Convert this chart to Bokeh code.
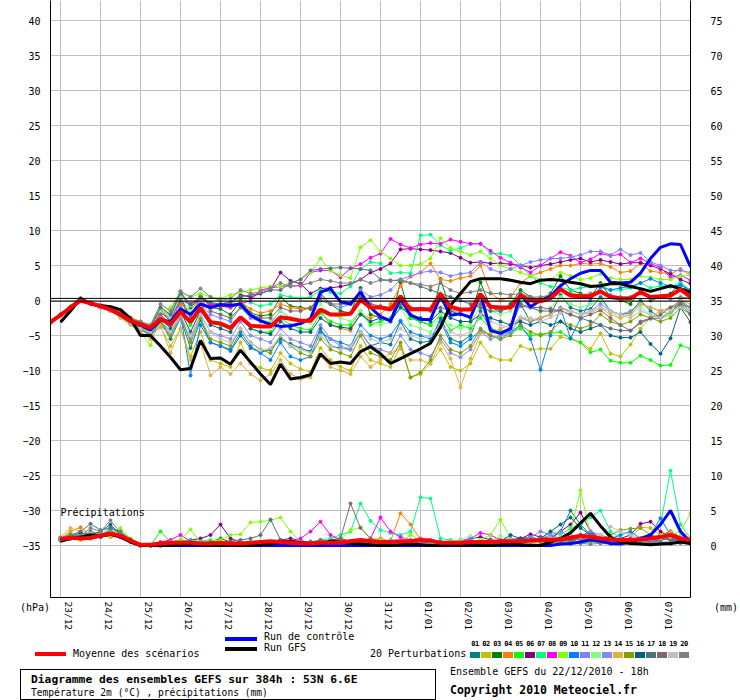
import math
from bokeh.plotting import figure
from bokeh.models import Range1d, LinearAxis, FixedTicker, Grid, Label, Span, Div
from bokeh.layouts import column
from bokeh.embed import file_html
from bokeh.resources import INLINE

N = float("nan")
FONT = "DejaVu Sans Mono"

# time axis: hours since 22/12/2010 18h, every 6 h, 384 h
hours = list(range(0, 385, 6))
day_labels = ["23/12", "24/12", "25/12", "26/12", "27/12", "28/12", "29/12", "30/12",
              "31/12", "01/01", "02/01", "03/01", "04/01", "05/01", "06/01", "07/01"]
label_hours = [11 + 24 * k for k in range(16)]
grid_hours = [6 + 24 * k for k in range(16)]
temp_ticks = list(range(-35, 45, 5))
precip_ticks = list(range(0, 80, 5))

# ---- Temperature 2m (deg C) ----
mean_t = [-3.1, -2.1, -1.0, 0.0, -0.4, -0.8, -1.3, -2.0, -2.9, -3.4, -3.9, -2.6, -3.4, -1.6, -3.1,
          -1.0, -3.1, -3.3, -3.9, -2.4, -3.6, -3.7, -3.7, -2.4, -2.6, -2.9, -2.9, -1.3, -2.0, -2.0,
          -1.9, 0.1, -1.0, -1.0, -1.3, 0.6, -1.3, -1.2, -1.3, 0.9, -0.9, -1.3, -1.3, 0.9, -0.9,
          -1.0, -1.0, 0.7, 0.0, -0.1, 0.3, 1.6, 0.7, 0.6, 0.6, 1.3, 0.5, 0.3, 0.3, 1.2, 0.5, 0.6,
          0.7, 1.6, 0.5]
ctrl_t = [-3.1, -2.1, -1.0, 0.2, -0.4, -0.9, -1.3, -2.1, -3.0, -3.5, -4.2, -2.8, -3.0, -1.2, -2.0,
          -0.5, -1.0, -0.6, -0.7, -0.5, -2.1, -2.9, -3.4, -3.7, -3.6, -3.3, -2.6, 1.2, 1.7, -0.2,
          -0.5, 1.2, -1.0, -2.3, -2.9, 0.3, -2.1, -2.7, -2.7, 0.6, -2.1, -1.9, -2.4, 1.0, -4.3,
          -4.7, -4.0, 0.9, -0.9, 0.0, 0.6, 2.1, 3.1, 3.9, 4.3, 4.3, 2.6, 2.5, 2.6, 3.9, 6.0, 7.6,
          8.1, 8.0, 4.8]
gfs_t = [N, -3.1, -1.5, 0.3, -0.5, -0.7, -0.9, -1.3, -2.6, -5.0, -5.0, -6.5, -8.1, -9.9, -9.7,
         -5.7, -8.3, -8.2, -9.1, -7.1, -8.8, -10.5, -12.0, -9.1, -11.2, -11.0, -10.6, -7.6, -9.0,
         -8.8, -9.0, -7.3, -6.6, -7.6, -9.0, -8.3, -7.6, -6.9, -6.1, -3.8, -0.7, 1.0, 2.7, 3.1,
         3.1, 3.1, 2.9, 2.6, 2.4, 2.9, 3.0, 2.9, 2.6, 2.4, 2.0, 2.1, 2.4, 2.4, 2.0, 1.7, 1.3,
         1.7, 2.1, 1.7, 1.2]

t01 = [-3.0, -2.0, -0.9, 0.2, -0.3, -0.9, -1.4, -2.2, -3.1, -3.8, -4.4, -3.0, -5.5, -2.5, -6.8,
       -2.8, -6.0, -6.5, -7.2, -5.0, -6.8, -7.4, -7.0, -5.5, -6.2, -6.8, -7.3, -4.0, -6.5, -6.8, -7.0,
       -4.5, -6.5, -6.0, -6.3, -3.0, -5.5, -6.0, -5.8, -2.5, -5.5, -6.0, -5.0, -1.5, -4.0, -4.5, -4.0,
       -0.5, -3.0, -2.5, -2.0, 0.8, -1.0, -1.5, -1.2, 0.5, -1.5, -2.0, -1.8, 0.0, -1.5, -2.5, -2.0,
       0.2, -1.8]
t02 = [-3.2, -2.2, -1.1, 0.0, -0.5, -1.0, -1.5, -2.4, -3.3, -4.0, -4.8, -3.8, -6.5, -4.0, -8.0,
       -4.5, -8.5, -9.0, -9.5, -6.0, -9.0, -9.6, -10.0, -7.5, -9.0, -9.8, -10.2, -6.8, -8.5, -9.5, -10.0,
       -6.5, -8.5, -9.0, -9.5, -6.5, -11.0, -10.5, -9.0, -7.0, -9.5, -10.0, -9.0, -6.0, -8.0, -8.5, -8.5,
       -6.5, -7.0, -6.9, -6.9, -5.2, -5.5, -6.0, -6.9, -4.7, -7.6, -8.0, -6.3, -4.0, -2.4, -1.5, -2.0,
       -0.5, -1.5]
t03 = [-3.1, -2.0, -0.9, 0.3, -0.3, -0.8, -1.2, -1.8, -2.8, -3.3, -3.8, -1.5, -3.0, 0.5, -2.5,
       0.8, -1.0, -1.2, -2.0, 0.0, -1.8, -2.2, -2.0, 0.5, -0.8, -1.0, -1.2, 1.0, -0.5, -1.5, -1.8,
       1.8, -2.0, -2.5, -3.0, 2.6, -2.5, -3.0, -3.5, 3.1, -1.5, -2.0, -2.5, 2.6, -1.0, -1.5, -0.5,
       1.5, 0.5, 0.0, 1.0, 3.5, 1.5, 1.0, 0.5, 2.5, 0.5, 0.0, -0.5, 1.5, 0.0, 0.5, 1.0,
       2.5, 1.0]
t04 = [-3.0, -2.1, -1.0, 0.1, -0.4, -0.7, -1.1, -1.6, -2.4, -3.0, -3.6, -1.5, -2.0, -0.5, -1.5,
       0.5, -0.5, -0.8, -1.0, -0.2, -1.2, -1.8, -1.5, -0.5, -1.0, -1.2, -1.0, -1.5, -3.5, -4.0, -4.3,
       -2.0, -2.5, -2.0, -0.5, 2.1, 3.4, 4.0, 5.3, 3.0, 2.8, 3.2, 3.5, 5.0, 1.1, 0.0, 0.5,
       2.5, 3.5, 4.0, 4.5, 5.0, 5.0, 5.3, 5.2, 5.3, 4.8, 4.0, 4.2, 5.3, 4.2, 4.0, 3.8,
       4.5, 3.6]
t05 = [-3.2, -2.2, -1.1, 0.0, -0.5, -0.9, -1.4, -2.0, -3.0, -4.0, -5.0, -3.0, -3.5, -1.0, -3.5,
       -1.5, -3.0, -3.5, -4.0, -2.5, -4.0, -4.5, -4.5, -2.5, -3.5, -4.0, -4.2, -1.8, -3.0, -3.5, -3.5,
       -1.5, -3.5, -3.0, -2.5, -0.5, -2.5, -3.0, -3.5, -2.0, -4.3, -3.5, -4.0, -2.5, -4.0, -4.5, -4.5,
       -4.0, -5.0, -4.8, -4.7, -4.5, -5.4, -6.0, -7.4, -7.0, -8.6, -8.9, -8.9, -7.9, -8.5, -9.3, -9.2,
       -6.4, -6.9]
t06 = [-3.1, -2.1, -1.0, 0.2, -0.4, -0.8, -1.2, -1.9, -2.7, -3.3, -3.8, -1.5, -2.5, 1.3, -1.0,
       0.5, -0.5, -0.5, -0.3, 0.8, 0.5, 1.0, 1.5, 4.0, 2.8, 2.4, 1.0, 1.7, 1.8, 2.0, 2.3,
       3.0, 4.0, 4.5, 5.3, 7.3, 7.4, 7.3, 7.2, 7.0, 6.8, 6.1, 5.4, 5.5, 5.3, 5.3, 5.2,
       5.0, 4.7, 5.0, 5.2, 5.5, 5.8, 6.0, 5.5, 5.8, 5.5, 5.2, 5.4, 5.4, 5.0, 4.5, 3.8,
       3.0, 2.4]
t07 = [-3.0, -2.0, -0.9, 0.2, -0.3, -0.8, -1.2, -1.8, -2.6, -3.1, -3.5, -1.0, -2.0, 0.8, -0.8,
       0.6, -0.3, -0.6, -0.8, 0.5, -0.3, -0.8, -0.5, 0.8, 0.5, 0.3, 0.5, 1.5, 1.2, 1.0, 2.0,
       4.5, 5.5, 5.3, 3.9, 4.0, 3.9, 9.3, 9.4, 7.9, 7.1, 7.5, 8.1, 8.1, 6.7, 6.7, 6.4,
       5.0, 3.5, 2.5, 2.0, 1.9, 1.5, 1.8, 2.0, 2.2, 1.5, 1.5, 1.8, 2.5, 1.8, 2.1, 2.0,
       2.5, 1.5]
t08 = [-3.1, -2.1, -1.0, 0.1, -0.4, -0.8, -1.3, -2.0, -2.9, -3.5, -4.0, -1.8, -2.5, 0.0, -0.5,
       0.2, -0.5, -0.8, -1.0, -0.5, 0.0, 1.5, 1.8, 2.0, 2.1, 2.1, 4.0, 4.3, 4.3, 3.3, 4.6,
       5.2, 6.1, 6.7, 8.8, 8.0, 7.5, 8.0, 8.2, 8.1, 8.7, 8.4, 8.1, 8.1, 7.1, 6.1, 5.4,
       4.7, 4.0, 5.0, 6.0, 6.9, 6.4, 5.4, 5.9, 6.7, 6.4, 6.6, 5.4, 6.0, 5.3, 4.7, 3.3,
       3.6, 2.9]
t09 = [-3.2, -2.2, -1.1, 0.1, -0.5, -1.0, -1.5, -2.5, -3.5, -4.5, -6.4, -2.0, -1.0, 1.3, 0.5,
       1.0, 0.5, 0.3, 0.8, 1.2, 1.5, 1.8, 2.0, 2.0, 2.5, 3.0, 4.0, 6.0, 4.3, 3.6, 3.2,
       7.6, 8.6, 7.0, 6.0, 5.0, 5.0, 5.2, 6.0, 8.9, 7.5, 7.0, 6.5, 7.0, 6.0, 5.0, 4.5,
       4.0, 3.5, 3.0, 3.0, 4.0, 3.5, 3.0, 3.2, 3.8, 3.2, 3.0, 3.0, 3.5, 3.3, 3.0, 3.0,
       3.5, 3.6]
t10 = [-3.1, -2.1, -1.0, 0.0, -0.5, -1.0, -1.5, -2.2, -3.2, -4.0, -5.0, -3.0, -4.5, -2.0, -10.7,
       -3.5, -6.0, -6.5, -7.0, -4.5, -6.5, -7.5, -8.5, -6.0, -8.0, -8.5, -8.0, -4.5, -5.5, -6.0, -6.5,
       -3.5, -5.0, -5.5, -5.0, -2.9, -4.5, -5.0, -5.5, -3.0, -6.0, -6.5, -5.5, -4.3, -5.0, -5.5, -4.5,
       -3.5, -5.5, -9.9, -5.0, -1.1, -5.4, -2.6, 0.0, 1.9, 1.5, 1.8, 2.0, 2.5, 3.1, 2.5, 2.0,
       2.2, 1.5]
t11 = [-3.0, -2.0, -0.9, 0.2, -0.3, -0.7, -1.2, -1.9, -2.8, -3.4, -4.2, -2.0, -3.5, -1.0, -3.0,
       -0.5, -2.0, -2.5, -3.0, -1.0, -2.5, -3.0, -3.2, -1.5, -2.5, -3.0, -3.0, 0.5, -0.5, -1.0, -0.5,
       1.5, 0.5, 0.8, 1.5, 3.0, 3.5, 4.0, 4.2, 4.0, 3.5, 3.8, 4.0, 5.5, 4.5, 4.0, 4.5,
       5.0, 5.5, 5.8, 6.0, 6.0, 6.2, 6.5, 7.0, 7.0, 6.5, 7.3, 6.5, 6.8, 5.5, 5.0, 4.3,
       4.3, 4.0]
t12 = [-3.1, -2.1, -1.0, 0.1, -0.4, -0.8, -1.3, -2.0, -2.9, -3.4, -4.0, -1.5, -2.5, 0.5, -1.5,
       0.0, -1.5, -2.0, -2.5, -1.0, -2.0, -2.8, -3.0, -1.5, -2.5, -3.0, -3.2, -0.5, -2.0, -2.5, -3.0,
       -1.5, -3.0, -3.5, -3.0, -1.0, -3.5, -4.0, -4.5, -2.0, -3.5, -4.0, -3.5, -0.5, -1.5, -2.0, -1.5,
       0.0, -1.0, -1.5, -1.0, 0.5, -0.5, -1.0, -0.5, 0.0, -1.5, -2.5, -2.0, -1.0, -2.0, -2.5, -2.0,
       -0.5, -1.5]
t13 = [-3.2, -2.2, -1.1, 0.0, -0.5, -1.0, -1.5, -2.3, -3.3, -4.2, -5.0, -3.5, -5.0, -2.5, -5.5,
       -2.0, -4.5, -5.0, -5.5, -3.0, -5.0, -5.5, -6.0, -4.0, -5.5, -6.0, -6.5, -3.5, -5.5, -6.5, -7.0,
       -4.5, -6.5, -7.0, -7.5, -5.0, -7.0, -7.5, -8.0, -5.5, -7.5, -8.1, -7.0, -4.5, -5.5, -5.0, -4.5,
       -2.5, -3.0, -2.5, -2.0, -1.0, -1.5, -2.0, -1.5, -0.5, -1.5, -2.0, -1.5, -0.5, -1.0, -1.5, -1.0,
       0.0, -1.0]
t14 = [-3.1, -2.1, -1.0, 0.0, -0.5, -1.0, -1.5, -2.4, -3.4, -4.5, -5.5, -3.5, -7.5, -4.0, -8.5,
       -6.0, -10.7, -9.5, -10.5, -9.0, -10.5, -11.4, -10.5, -8.5, -10.5, -11.2, -11.0, -8.0, -9.5, -10.0, -10.5,
       -8.0, -9.5, -8.5, -7.5, -6.9, -8.5, -8.5, -9.0, -6.0, -8.3, -12.4, -8.3, -4.7, -4.7, -4.0, -3.5,
       -2.4, -2.8, -2.4, -2.0, -1.2, -1.5, -2.0, -1.8, -1.0, -2.0, -2.5, -2.0, -0.5, -1.0, -1.5, -1.0,
       0.0, -0.5]
t15 = [-3.1, -2.1, -1.0, 0.0, -0.4, -0.9, -1.4, -2.2, -3.2, -4.0, -4.8, -3.0, -5.0, -2.0, -6.0,
       -2.5, -5.5, -6.0, -6.5, -4.0, -6.0, -7.0, -7.5, -5.0, -6.5, -7.5, -8.0, -5.5, -7.0, -7.5, -8.0,
       -5.0, -7.5, -8.0, -8.5, -6.0, -11.0, -10.3, -8.5, -5.0, -7.0, -7.5, -6.5, -4.0, -5.0, -5.5, -5.0,
       -3.5, -4.5, -5.0, -4.5, -3.0, -3.5, -4.0, -3.5, -2.0, -3.0, -3.5, -3.0, -2.0, -2.5, -3.0, -2.5,
       -1.0, -2.0]
t16 = [-3.1, -2.1, -1.0, 0.1, -0.4, -0.8, -1.3, -2.1, -3.0, -3.7, -4.5, -2.5, -4.0, -1.5, -4.5,
       -1.5, -3.5, -4.0, -4.5, -2.5, -4.0, -4.5, -4.8, -3.0, -4.0, -4.5, -4.5, -2.5, -3.5, -3.8, -4.0,
       -2.0, -3.0, -2.5, -3.0, -1.0, -2.0, -2.5, -3.0, -1.5, -2.5, -3.0, -3.0, -2.0, -2.5, -3.0, -3.5,
       -3.0, -3.5, -3.0, -3.5, -3.0, -4.0, -4.5, -4.0, -3.5, -5.0, -5.3, -5.3, -4.5, -6.2, -7.6, -5.4,
       -1.0, -3.1]
t17 = [-3.0, -2.0, -0.9, 0.3, -0.3, -0.7, -1.1, -1.8, -2.6, -3.2, -3.8, -1.0, -2.0, 1.0, -0.5,
       0.5, -0.3, -0.5, -0.2, 0.5, 0.8, 1.0, 1.5, 1.5, 2.5, 3.0, 4.3, 4.5, 4.6, 4.7, 4.6,
       4.5, 4.3, 3.0, 2.9, 2.8, 2.5, 2.0, 1.5, 1.0, 0.5, 0.0, -0.5, -1.0, -1.5, -1.5, -1.0,
       -0.5, -1.0, -1.5, -1.5, -1.5, -2.0, -2.5, -3.0, -3.5, -4.0, -4.3, -4.3, -3.2, -2.6, -2.5, -1.6,
       -0.5, -2.0]
t18 = [-3.1, -2.1, -1.0, 0.1, -0.4, -0.8, -1.3, -2.0, -2.9, -3.5, -4.0, -2.0, -3.5, 0.0, -2.5,
       0.3, -1.5, -2.0, -2.5, -1.0, -2.0, -2.5, -2.5, -1.0, -1.5, -1.5, -1.0, 0.0, -0.5, -0.5, -0.5,
       0.5, -0.5, -0.8, -1.0, -0.5, -1.0, -1.2, -1.5, -1.0, -1.5, -1.5, -1.2, -0.5, -1.0, -1.2, -1.0,
       -0.8, -1.0, -1.0, -1.2, -1.5, -2.0, -2.5, -2.0, -1.4, -2.5, -3.5, -4.3, -3.0, -2.5, -2.0, -1.0,
       -0.5, -1.0]
t19 = [-3.2, -2.2, -1.1, 0.0, -0.5, -1.0, -1.5, -2.3, -3.2, -4.0, -4.5, -2.5, -4.5, -2.0, -5.0,
       -2.0, -4.5, -5.5, -6.0, -4.0, -6.0, -7.1, -6.8, -5.0, -6.5, -7.0, -7.5, -5.0, -6.5, -7.0, -6.5,
       -4.5, -5.5, -6.0, -5.5, -4.0, -5.0, -5.5, -5.0, -3.5, -4.5, -5.0, -4.5, -2.0, -3.0, -3.5, -3.9,
       -2.4, -2.5, -3.0, -2.4, -1.8, -1.5, -2.0, -1.5, -1.0, -1.5, -2.0, -2.5, -1.5, -2.0, -2.5, -1.5,
       -1.0, -1.2]
t20 = [-3.1, -2.1, -1.0, 0.2, -0.3, -0.7, -1.1, -1.8, -2.6, -3.0, -3.5, -0.5, -1.5, 1.3, 0.5,
       1.7, 0.5, 0.0, 0.3, 1.5, 1.0, 1.2, 1.8, 2.5, 2.0, 2.2, 2.5, 3.0, 2.8, 2.5, 2.5,
       3.0, 2.5, 2.9, 2.8, 3.0, 2.5, 2.3, 2.0, 2.5, 1.5, 1.0, 1.2, 1.5, 1.0, 1.0, 0.8,
       1.0, 0.5, 0.5, 0.8, 1.5, 1.0, 0.8, 1.0, 1.3, 0.8, 0.5, 0.5, 1.0, 0.3, 0.5, 0.2,
       0.5, 0.3]

# ---- Precipitation (mm per 6 h) ----
mean_p = [N, 0.9, 1.1, 1.0, 1.1, 1.4, 1.7, 1.4, 0.7, 0.1,
          0.1, 0.3, 0.4, 0.4, 0.4, 0.3, 0.3, 0.4, 0.3, 0.3,
          0.4, 0.5, 0.6, 0.5, 0.4, 0.3, 0.3, 0.4, 0.4, 0.4,
          0.6, 0.8, 0.6, 0.5, 0.5, 0.6, 0.6, 0.8, 0.7, 0.4,
          0.4, 0.4, 0.5, 0.5, 0.5, 0.6, 0.6, 0.6, 0.7, 0.8,
          0.8, 0.9, 1.1, 1.4, 1.2, 1.0, 0.9, 0.8, 0.8, 0.9,
          1.0, 1.2, 1.5, 1.0, 0.8]
ctrl_p = [N, 0.8, 1.1, 1.0, 1.2, 1.4, 1.7, 1.4, 0.7, 0.0,
          0, 0, 0, 0, 0, 0, 0, 0, 0, 0,
          0, 0, 0, 0, 0, 0, 0, 0, 0, 0,
          0, 0, 0, 0, 0, 0, 0, 0, 0, 0,
          0, 0, 0, 0, 0, 0, 0, 0, 0, 0,
          0, 0.2, 0.3, 0.5, 0.8, 0.6, 0.3, 0.2, 0.5, 1.0,
          1.5, 3.0, 5.0, 2.0, 0.5]
gfs_p = [N, 0.6, 1.0, 1.2, 1.5, 1.3, 1.6, 1.2, 0.5, 0.0,
         0, 0, 0, 0.1, 0.2, 0.1, 0, 0, 0.1, 0,
         0, 0.1, 0.2, 0.5, 0.6, 0.4, 0.3, 0.2, 0.6, 0.5,
         0.3, 0.2, 0.1, 0, 0, 0.1, 0.2, 0.1, 0, 0,
         0.1, 0, 0.1, 0, 0, 0.1, 0.2, 0.1, 0, 0,
         0.5, 1.0, 1.8, 3.2, 4.6, 2.8, 1.2, 0.5, 0.3, 0.2,
         0.1, 0.2, 0.3, 0.5, 0.3]
p01 = [N, 0.8, 1.5, 1.2, 2.0, 1.5, 2.5, 1.8, 0.8, 0.1, 0, 0, 0.3, 0.5, 0.2, 0.3, 0.2, 0.2, 0.4, 0.3,
       0.2, 0.3, 0.5, 0.2, 0.2, 0.3, 0.2, 0.1, 0.2, 0.3, 0.5, 0.3, 0.2, 0.3, 0.2, 0.5, 0.4, 0.3, 0.2, 0.3,
       0.4, 0.5, 0.3, 0.5, 0.8, 0.5, 0.4, 0.5, 0.6, 0.8, 1.0, 2.0, 5.0, 3.0, 1.5, 1.0, 0.5, 0.4, 0.5, 0.6,
       0.8, 1.0, 1.2, 1.0, 0.8]
p02 = [N, 1.0, 1.2, 0.8, 1.5, 1.2, 1.8, 1.5, 0.6, 0.1, 0, 0, 0.2, 0.3, 0.2, 0.2, 0.1, 0.2, 0.3, 0.2,
       0.3, 0.2, 0.2, 0.1, 0.2, 0.2, 0.3, 0.2, 0.2, 0.1, 0.2, 0.2, 0.3, 0.2, 0.4, 0.5, 0.3, 0.2, 0.3, 0.2,
       0.3, 0.4, 0.5, 0.3, 0.4, 0.5, 0.3, 0.4, 0.8, 1.0, 1.2, 0.8, 0.6, 0.5, 0.8, 1.0, 0.8, 0.5, 1.0, 2.6,
       2.5, 1.5, 0.8, 0.6, 0.5]
p03 = [N, 0.8, 1.0, 1.5, 1.0, 1.8, 2.0, 1.5, 0.7, 0.0, 0, 0, 0.4, 0.6, 0.4, 0.3, 0.5, 1.0, 0.5, 0.3,
       0.2, 0.3, 0.4, 0.3, 0.2, 0.4, 0.3, 0.2, 0.3, 0.2, 0.4, 0.6, 0.3, 0.2, 0.3, 0.5, 0.3, 0.2, 0.4, 0.3,
       0.5, 0.8, 0.4, 0.3, 0.5, 0.6, 0.8, 1.0, 1.2, 0.8, 0.7, 0.8, 1.2, 1.5, 1.8, 1.0, 0.8, 0.6, 0.7, 0.8,
       1.0, 1.5, 2.0, 1.2, 0.8]
p04 = [N, 1.0, 2.0, 2.6, 1.5, 2.0, 1.5, 1.8, 0.8, 0.1, 0, 0, 0.2, 0.4, 0.2, 0.3, 0.2, 0.3, 0.4, 0.2,
       0.3, 0.2, 0.3, 0.2, 0.4, 0.3, 0.2, 0.4, 0.3, 0.2, 0.3, 0.5, 0.8, 1.0, 0.6, 4.6, 3.0, 0.8, 0.5, 0.3,
       0.4, 0.3, 0.5, 0.4, 0.3, 0.5, 0.4, 0.3, 0.5, 0.6, 0.5, 0.8, 1.0, 1.2, 0.8, 0.6, 0.7, 0.5, 0.8, 1.0,
       1.5, 1.2, 2.0, 1.0, 0.6]
p05 = [N, 0.7, 1.5, 1.2, 1.0, 1.5, 1.2, 1.5, 0.5, 0.1, 0, 2.0, 0.5, 0.8, 0.5, 0.3, 0.2, 0.3, 0.5, 0.3,
       0.2, 0.3, 0.2, 0.3, 0.2, 0.2, 0.3, 0.2, 0.3, 0.2, 0.3, 0.2, 0.3, 0.2, 0.3, 0.2, 0.3, 0.4, 0.3, 0.2,
       0.3, 0.4, 0.3, 0.2, 0.3, 0.4, 0.3, 0.2, 0.3, 0.4, 0.3, 0.5, 0.4, 0.3, 0.5, 0.4, 0.3, 0.4, 0.3, 0.5,
       0.4, 0.3, 0.5, 0.4, 0.3]
p06 = [N, 0.8, 1.0, 1.2, 1.5, 1.2, 1.5, 1.2, 0.6, 0.0, 0, 0, 0.2, 0.5, 0.8, 1.0, 1.5, 3.0, 1.0, 0.5,
       0.3, 0.4, 0.5, 0.8, 1.0, 0.7, 0.4, 0.3, 0.8, 1.0, 0.6, 0.5, 0.8, 0.5, 0.4, 0.3, 0.5, 0.4, 0.6, 0.5,
       0.4, 0.6, 1.0, 1.2, 0.8, 0.6, 0.8, 1.0, 1.6, 1.2, 1.0, 2.0, 3.0, 4.7, 2.0, 1.0, 0.8, 1.0, 1.5, 3.1,
       3.4, 2.0, 1.2, 1.0, 0.8]
p07 = [N, 0.9, 1.2, 1.5, 1.0, 1.2, 2.0, 1.5, 0.7, 0.0, 0, 0, 0.3, 0.5, 0.8, 0.6, 0.8, 0.5, 0.4, 0.3,
       0.5, 0.4, 0.3, 0.5, 0.6, 0.4, 0.3, 0.8, 1.0, 1.5, 2.0, 6.0, 3.5, 2.2, 1.8, 1.5, 2.0, 6.9, 6.7, 1.0,
       0.8, 0.6, 0.5, 0.8, 0.6, 0.5, 0.4, 0.6, 0.8, 1.0, 2.0, 1.5, 2.5, 3.0, 4.0, 5.0, 2.0, 1.0, 0.8, 1.0,
       1.5, 3.0, 10.7, 3.0, 1.0]
p08 = [N, 1.0, 1.2, 1.0, 1.5, 1.8, 1.5, 1.2, 0.6, 0.0, 0, 0.5, 0.8, 1.5, 0.6, 0.4, 0.3, 0.4, 0.3, 0.4,
       0.3, 0.4, 0.5, 0.4, 0.6, 1.0, 2.0, 3.4, 1.5, 0.8, 0.6, 0.5, 1.0, 4.0, 2.0, 1.2, 0.8, 1.0, 0.6, 0.5,
       0.4, 0.6, 1.0, 1.8, 1.5, 0.8, 0.6, 0.4, 0.5, 0.6, 0.5, 0.8, 0.6, 1.0, 0.8, 0.6, 0.5, 0.6, 0.8, 0.6,
       0.5, 0.6, 0.4, 0.5, 0.3]
p09 = [N, 0.8, 1.8, 1.0, 1.2, 2.0, 1.5, 2.5, 1.0, 0.1, 0, 0, 0.3, 0.8, 2.3, 0.5, 0.6, 0.8, 1.5, 1.6,
       3.3, 3.4, 3.6, 4.0, 2.0, 0.5, 0.4, 0.6, 0.5, 0.8, 2.2, 2.6, 1.0, 0.8, 0.6, 0.5, 1.5, 0.8, 0.6, 0.5,
       0.4, 0.6, 0.5, 0.8, 1.5, 3.7, 1.0, 0.6, 0.5, 0.8, 0.6, 1.0, 2.0, 7.9, 1.5, 1.0, 0.8, 0.6, 0.8, 1.0,
       0.8, 1.2, 1.5, 2.0, 4.6]
p10 = [N, 0.7, 1.0, 1.3, 1.5, 1.2, 1.8, 1.3, 0.6, 0.0, 0, 0, 0.2, 0.3, 0.5, 0.4, 0.3, 0.2, 0.3, 0.4,
       0.3, 0.2, 0.3, 0.4, 0.3, 0.2, 0.3, 0.4, 0.3, 0.2, 0.4, 0.3, 0.2, 0.3, 0.4, 0.5, 0.3, 0.4, 0.3, 0.5,
       0.4, 0.3, 0.5, 0.4, 0.3, 0.5, 0.6, 0.8, 1.2, 0.8, 0.6, 0.8, 1.0, 1.5, 1.0, 0.8, 1.0, 1.5, 2.0, 1.0,
       1.5, 3.9, 1.5, 1.0, 0.6]
p11 = [N, 0.9, 1.4, 1.2, 1.8, 1.5, 2.2, 1.4, 0.8, 0.1, 0, 0, 0.3, 0.4, 0.3, 0.5, 0.4, 0.3, 0.5, 0.4,
       0.3, 0.5, 0.4, 0.3, 0.4, 0.5, 0.6, 0.5, 0.4, 0.3, 0.5, 0.4, 0.6, 0.5, 0.8, 0.6, 0.5, 0.4, 0.8, 0.6,
       0.5, 0.6, 0.8, 0.6, 0.5, 0.8, 1.0, 0.8, 1.2, 2.0, 1.5, 1.0, 0.8, 1.2, 2.0, 1.5, 1.0, 0.8, 0.6, 0.8,
       1.0, 1.2, 0.8, 0.6, 0.8]
p12 = [N, 1.0, 1.3, 1.6, 1.2, 1.7, 2.3, 1.6, 0.9, 0.1, 0, 0, 0.5, 0.3, 0.2, 0.4, 0.3, 0.2, 0.4, 0.3,
       0.2, 0.3, 0.5, 0.4, 0.3, 0.2, 0.3, 0.4, 0.3, 0.2, 0.3, 0.5, 0.4, 0.3, 0.6, 0.5, 0.6, 0.8, 0.5, 0.4,
       0.6, 0.8, 1.4, 0.8, 0.6, 1.4, 0.8, 0.6, 0.5, 0.4, 0.6, 0.8, 0.6, 0.5, 0.8, 1.0, 0.8, 0.6, 0.5, 0.6,
       0.8, 0.6, 0.5, 0.8, 0.6]
p13 = [N, 0.8, 1.1, 1.4, 1.3, 1.6, 1.9, 1.4, 0.7, 0.0, 0, 0, 0.2, 0.3, 0.2, 0.3, 0.2, 0.3, 0.2, 0.3,
       0.2, 0.2, 0.3, 0.2, 0.3, 0.2, 0.2, 0.3, 0.2, 0.3, 0.2, 0.3, 0.2, 0.3, 0.2, 0.3, 0.2, 0.3, 0.2, 0.3,
       0.4, 0.3, 0.5, 0.4, 0.3, 0.5, 0.4, 0.6, 0.8, 1.0, 1.5, 2.0, 1.2, 1.0, 0.8, 0.6, 0.8, 0.6, 0.5, 0.6,
       0.5, 0.4, 0.5, 0.6, 0.4]
p14 = [N, 1.2, 2.5, 2.0, 1.8, 1.5, 1.2, 1.3, 0.6, 0.0, 0, 0, 0.2, 0.2, 0.3, 0.2, 0.2, 0.3, 0.2, 0.2,
       0.3, 0.2, 0.2, 0.3, 0.2, 0.2, 0.3, 0.2, 0.2, 0.3, 0.2, 0.2, 0.3, 0.2, 0.2, 0.3, 0.2, 0.2, 0.3, 0.2,
       0.2, 0.3, 0.2, 0.2, 0.3, 0.2, 0.3, 0.4, 0.3, 0.5, 0.6, 0.8, 1.0, 0.8, 0.6, 1.0, 0.8, 0.6, 0.8, 1.0,
       1.2, 1.5, 1.8, 1.0, 0.6]
p15 = [N, 0.8, 1.2, 1.4, 1.2, 1.4, 1.6, 1.3, 0.6, 0.0, 0, 0, 0.3, 0.2, 0.3, 0.2, 0.3, 0.2, 0.3, 0.2,
       0.3, 0.2, 0.3, 0.2, 0.3, 0.2, 0.3, 0.2, 0.3, 0.2, 0.3, 0.2, 0.3, 0.2, 0.3, 0.2, 0.3, 0.2, 0.3, 0.2,
       0.3, 0.2, 0.3, 0.4, 0.3, 0.5, 0.4, 0.5, 0.6, 0.8, 0.6, 0.5, 0.8, 1.0, 0.8, 1.0, 1.5, 2.2, 2.4, 2.5,
       1.5, 1.0, 0.8, 0.6, 0.8]
p16 = [N, 0.9, 1.3, 1.8, 1.5, 2.0, 3.0, 1.5, 0.7, 0.0, 0, 0, 0.2, 0.3, 0.2, 0.3, 0.2, 0.3, 0.2, 0.3,
       0.2, 0.3, 0.2, 0.3, 0.2, 0.3, 0.2, 0.3, 0.2, 0.3, 0.2, 0.3, 0.2, 0.3, 0.2, 0.3, 0.2, 0.3, 0.2, 0.3,
       0.3, 0.4, 0.3, 0.4, 0.5, 0.6, 1.5, 1.0, 0.8, 1.0, 2.0, 3.0, 4.0, 2.5, 1.5, 0.8, 0.6, 0.5, 0.8, 1.0,
       1.2, 0.8, 1.0, 0.6, 0.4]
p17 = [N, 1.1, 1.5, 2.0, 3.1, 2.2, 2.5, 2.0, 0.9, 0.1, 0, 0, 0.2, 0.3, 0.4, 0.3, 0.5, 0.4, 0.6, 0.8,
       1.0, 1.5, 3.7, 0.8, 0.5, 0.4, 0.3, 0.4, 0.3, 0.2, 0.3, 0.4, 0.3, 0.2, 0.3, 0.4, 0.3, 0.2, 0.3, 0.4,
       0.3, 0.4, 0.5, 0.4, 0.3, 0.5, 0.4, 0.6, 0.5, 0.6, 0.5, 0.8, 0.6, 1.0, 0.8, 0.6, 0.5, 0.8, 1.0, 0.8,
       0.6, 0.8, 1.0, 0.8, 1.0]
p18 = [N, 0.8, 1.2, 1.1, 1.4, 1.6, 2.0, 1.5, 0.7, 0.0, 0, 0, 0.2, 0.3, 0.2, 0.3, 0.2, 0.3, 0.4, 0.3,
       0.2, 0.3, 0.4, 0.3, 0.2, 0.3, 0.5, 0.8, 0.6, 1.0, 6.0, 2.5, 1.0, 0.5, 0.4, 0.3, 0.4, 0.5, 0.4, 0.3,
       0.4, 0.3, 0.5, 0.4, 0.6, 0.5, 0.4, 0.6, 0.8, 1.0, 0.8, 0.6, 0.8, 1.0, 1.5, 1.2, 0.8, 0.6, 0.5, 0.6,
       0.8, 1.0, 0.8, 0.6, 0.5]
p19 = [N, 0.9, 1.1, 1.3, 1.4, 1.5, 1.8, 1.4, 0.7, 0.0, 0, 0, 0.2, 0.3, 0.2, 0.3, 0.2, 0.3, 0.2, 0.3,
       0.2, 0.3, 0.2, 0.3, 0.2, 0.3, 0.2, 0.3, 0.2, 0.3, 0.2, 0.3, 0.2, 0.3, 0.2, 0.3, 0.2, 0.3, 0.2, 0.3,
       0.3, 0.4, 0.3, 0.4, 0.5, 0.6, 0.8, 0.6, 0.5, 0.8, 1.0, 1.2, 1.5, 1.2, 1.0, 1.5, 2.7, 2.0, 1.5, 1.0,
       0.8, 1.0, 1.2, 1.5, 1.0]
p20 = [N, 1.0, 1.6, 1.3, 2.5, 2.0, 3.6, 1.8, 0.8, 0.1, 0, 0, 0.1, 0.1, 0.2, 0.1, 0.1, 0.2, 0.1, 0.1,
       0.1, 0.2, 0.1, 0.1, 0.2, 0.1, 0.1, 0.2, 0.1, 0.1, 0.1, 0.2, 0.1, 0.1, 0.2, 0.1, 0.1, 0.2, 0.1, 0.1,
       0.1, 0.2, 0.1, 0.1, 0.2, 0.1, 0.1, 0.2, 0.1, 0.1, 0.2, 0.3, 0.2, 0.3, 0.2, 0.3, 0.2, 0.3, 0.4, 0.3,
       0.4, 0.3, 0.2, 0.3, 0.2]

pert_temps = [t01, t02, t03, t04, t05, t06, t07, t08, t09, t10,
              t11, t12, t13, t14, t15, t16, t17, t18, t19, t20]
pert_precs = [p01, p02, p03, p04, p05, p06, p07, p08, p09, p10,
              p11, p12, p13, p14, p15, p16, p17, p18, p19, p20]
pert_names = ["%02d" % (i + 1) for i in range(20)]
pert_colors = ["#008080", "#c0c000", "#008000", "#ff8000", "#00ff00", "#800080", "#00ff80",
               "#ff00ff", "#80ff00", "#0080ff", "#8080ff", "#80ff80", "#8888f0", "#e0b040",
               "#80a000", "#006080", "#507080", "#806870", "#c0c0c0", "#808080"]

# ---------------- main figure ----------------
T_TOP = 300.0 / 7.0
T_BOTTOM = -297.0 / 7.0
p = figure(frame_width=640, frame_height=597,
           x_range=Range1d(0, 384), y_range=Range1d(T_BOTTOM, T_TOP),
           x_axis_type=None, y_axis_type=None,
           output_backend="svg", toolbar_location=None,
           min_border_left=50, min_border_right=50, min_border_top=0, min_border_bottom=34)
p.extra_y_ranges = {"precip": Range1d(T_BOTTOM + 35, T_TOP + 35)}
p.outline_line_color = None
p.background_fill_color = "white"
p.border_fill_color = "white"

p.add_layout(Grid(dimension=0, ticker=FixedTicker(ticks=grid_hours),
                  grid_line_color="#c0c0c0", grid_line_width=1))
p.add_layout(Grid(dimension=1, ticker=FixedTicker(ticks=temp_ticks),
                  grid_line_color="#c0c0c0", grid_line_width=1))


def style_axis(ax, size="10px"):
    ax.axis_line_color = "black"
    ax.axis_line_width = 1
    ax.major_tick_in = 0
    ax.major_tick_out = 0
    ax.minor_tick_in = 0
    ax.minor_tick_out = 0
    ax.major_label_text_font = FONT
    ax.major_label_text_font_size = size
    ax.major_label_text_color = "black"


xaxis = LinearAxis(ticker=FixedTicker(ticks=label_hours),
                   major_label_overrides=dict(zip(label_hours, day_labels)))
style_axis(xaxis, "9.5px")
xaxis.major_label_orientation = "vertical"
xaxis.major_label_standoff = 4
p.add_layout(xaxis, "below")

yleft = LinearAxis(ticker=FixedTicker(ticks=temp_ticks))
style_axis(yleft, "10px")
yleft.major_label_standoff = 10
p.add_layout(yleft, "left")

yright = LinearAxis(y_range_name="precip", ticker=FixedTicker(ticks=precip_ticks))
style_axis(yright, "10px")
yright.major_label_standoff = 20
p.add_layout(yright, "right")

# perturbations
for vals, col in zip(pert_temps, pert_colors):
    xs = hours[:len(vals)]
    p.line(xs, vals, line_color=col, line_width=1)
    p.scatter(xs, vals, size=3, marker="circle", line_color=col, fill_color=col)
for vals, col in zip(pert_precs, pert_colors):
    xs = hours[:len(vals)]
    p.line(xs, vals, line_color=col, line_width=1, y_range_name="precip")
    p.scatter(xs, vals, size=3, marker="circle", line_color=col, fill_color=col,
              y_range_name="precip")

# 0 degC double line
for loc in (0.3, -0.1):
    p.add_layout(Span(location=loc, dimension="width", line_color="black",
                      line_width=1, level="glyph"))

# control, GFS, mean
p.line(hours[:len(ctrl_t)], ctrl_t, line_color="#0000ff", line_width=3)
p.line(hours[:len(ctrl_p)], ctrl_p, line_color="#0000ff", line_width=3, y_range_name="precip")
p.line(hours[:len(gfs_t)], gfs_t, line_color="black", line_width=3)
p.line(hours[:len(gfs_p)], gfs_p, line_color="black", line_width=3, y_range_name="precip")
p.line(hours[:len(mean_t)], mean_t, line_color="#ff0000", line_width=4)
p.line(hours[:len(mean_p)], mean_p, line_color="#ff0000", line_width=4, y_range_name="precip")

p.add_layout(Label(x=6, y=-30.3, text="Précipitations", text_font=FONT,
                   text_font_size="10px", text_baseline="middle", text_align="left",
                   text_color="black"))

# ---------------- captions, legend and title strip (HTML, positioned in pixels) ----------------
# The strip starts at the bottom edge of the plot frame (overlapping the date-label band).
def item(left, top, inner, size="10px", bold=False, extra=""):
    weight = "bold" if bold else "normal"
    return ('<div style="position:absolute;left:%spx;top:%spx;font-size:%s;font-weight:%s;'
            'color:#000000;line-height:1;white-space:nowrap;%s">%s</div>'
            % (left, top, size, weight, extra, inner))


def bar(left, top, width, height, color):
    return ('<div style="position:absolute;left:%spx;top:%spx;width:%spx;height:%spx;'
            'background:%s"></div>' % (left, top, width, height, color))


parts = []
parts.append(item(20, 4, "(hPa)"))
parts.append(item(714, 4, "(mm)"))
parts.append(bar(225, 38, 32, 4, "#0000ff"))
parts.append(item(264, 33, "Run de contrôle"))
parts.append(bar(225, 48, 32, 4, "#000000"))
parts.append(item(264, 44, "Run GFS"))
parts.append(bar(35, 53, 31, 4, "#ff0000"))
parts.append(item(73, 50, "Moyenne des scénarios"))
parts.append(item(370, 50, "20 Perturbations"))
for k, (name, col) in enumerate(zip(pert_names, pert_colors)):
    parts.append(bar(470 + 11 * k, 53, 10, 6, col))
    parts.append(item(470 + 11 * k, 42, name, size="7px", bold=True,
                      extra="width:10px;text-align:center;letter-spacing:-0.5px"))
parts.append('<div style="position:absolute;left:20px;top:70px;width:416px;height:31px;'
             'box-sizing:border-box;border:1.5px solid #000"></div>')
parts.append(item(31, 75, "Diagramme des ensembles GEFS sur 384h : 53N 6.6E",
                  size="11.3px", bold=True))
parts.append(item(31, 89, "Température 2m (°C) , précipitations (mm)", size="9.6px"))
parts.append(item(450, 68, "Ensemble GEFS du 22/12/2010 - 18h"))
parts.append(item(450, 86, "Copyright 2010 Meteociel.fr", size="11.5px", bold=True))

html = ('<div style="position:relative;width:740px;height:103px;color:#000;'
        'font-family:\'DejaVu Sans Mono\',monospace;">' + "".join(parts) + '</div>')
leg = Div(text=html, width=740, height=103, margin=(-34, 0, 0, 0))

layout = column(p, leg, spacing=0)
open("out.html", "w").write(file_html(layout, INLINE))
